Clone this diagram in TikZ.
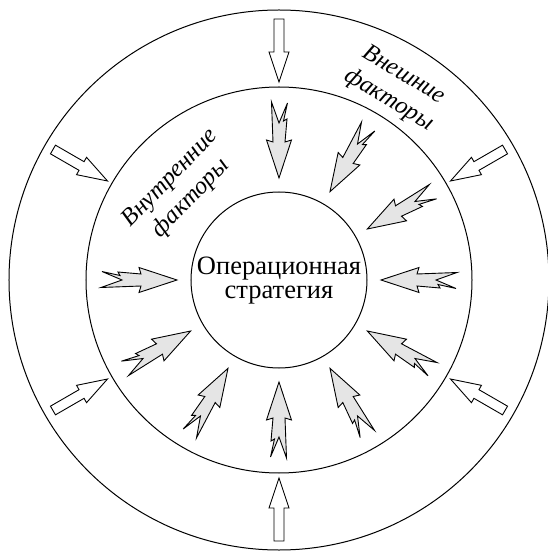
\documentclass[tikz,border=0pt]{standalone}
\usepackage{fontspec}
\setmainfont{Liberation Serif}

\tikzset{
  innerarrow/.style={draw, line width=0.9pt, fill=gray!20},
  outerarrow/.style={draw, line width=0.9pt, fill=white},
  factortext/.style={font=\itshape\fontsize{24.5}{29}\selectfont, align=center}
}

\begin{document}
\begin{tikzpicture}[x=1pt, y=1pt, line width=1pt]
\useasboundingbox (-279,-271) rectangle (269,280);

% Circles
\draw (0,0) circle (270pt);
\draw (0,0) circle (193pt);
\draw (0,0) circle (88pt);

% Strategy
\node[align=center, font=\fontsize{26.5}{24}\selectfont] (strategy) at (0,-1) {Операционная\\стратегия};

% Factor labels
\node[factortext, rotate=46] (inner) at (137:134pt) {Внутренние\\факторы};
\node[factortext, rotate=-31] (outer) at (58.6:225pt) {Внешние\\факторы};

% Internal factors (gray arrows)
\foreach \a in {0,30,60,90,180,210,240,270,300,330}
  \draw[innerarrow, rotate=\a] (102,0) -- (140,12.5) -- (138,6) -- (178,7.5) -- (157,0)
    -- (177,-8.5) -- (159,-4.5) -- (161,-8) -- (138,-6) -- (140,-12.5) -- cycle;

% External factors (white arrows)
\foreach \a in {30,90,150,210,270,330}
  \draw[outerarrow, rotate=\a] (198,0) -- (228,10) -- (228,5) -- (261,5)
    -- (261,-5) -- (228,-5) -- (228,-10) -- cycle;

\end{tikzpicture}
\end{document}
